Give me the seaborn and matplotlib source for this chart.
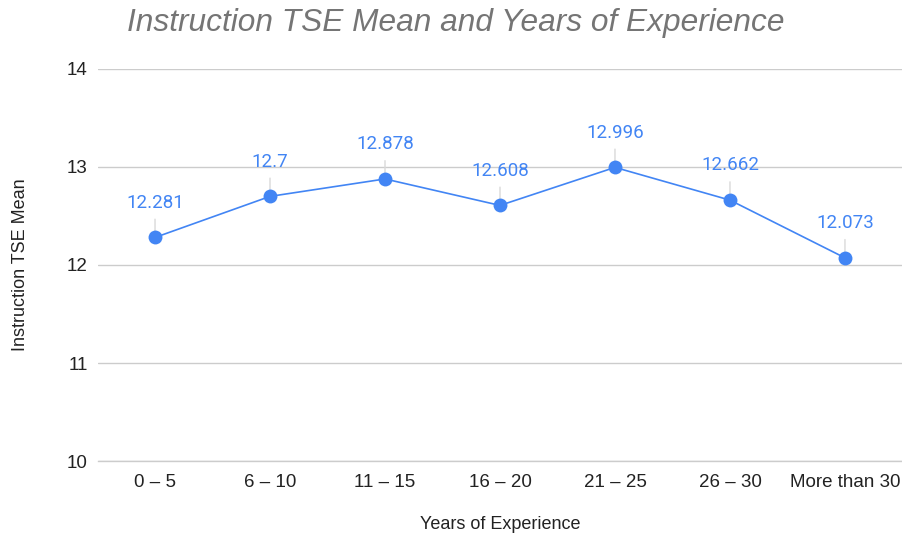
# Imports
import pandas as pd
import matplotlib
matplotlib.use("Agg")
import matplotlib.pyplot as plt
import seaborn as sns

# Data
experience = ["0 – 5", "6 – 10", "11 – 15", "16 – 20", "21 – 25", "26 – 30", "More than 30"]
tse_mean = [12.281, 12.7, 12.878, 12.608, 12.996, 12.662, 12.073]
value_labels = ["12.281", "12.7", "12.878", "12.608", "12.996", "12.662", "12.073"]
y_ticks = [10, 11, 12, 13, 14]

df = pd.DataFrame({"experience": experience, "tse_mean": tse_mean})
df["pos"] = range(len(df))

# Style
sns.set_style("white")
plt.rcParams["font.family"] = ["Liberation Sans", "DejaVu Sans"]
blue = "#4285F4"

fig = plt.figure(figsize=(9.03, 5.39), dpi=100)
ax = fig.add_axes([0.108, 0.1447, 0.8914, 0.7273])

# Line + markers
sns.lineplot(data=df, x="pos", y="tse_mean", ax=ax, color=blue, linewidth=1.2,
             marker="o", markersize=10, markeredgewidth=0, zorder=3)

# Data labels with leader lines (drawn under the line)
for x, y, lab in zip(df["pos"], df["tse_mean"], value_labels):
    ax.annotate(lab, xy=(x, y), xytext=(0, 25), textcoords="offset points",
                ha="center", va="center", color=blue, fontsize=13.5,
                family=["Roboto", "DejaVu Sans"],
                arrowprops=dict(arrowstyle="-", color="#d9d9d9", lw=1,
                                shrinkA=3, shrinkB=0), zorder=2)

# Axes
ax.set_xlim(-0.5, len(df) - 0.5)
ax.set_ylim(10, 14)
ax.set_yticks(y_ticks)
ax.set_xticks(df["pos"])
ax.set_xticklabels(experience)
ax.tick_params(axis="both", length=0, labelsize=13.5, labelcolor="#222222")
ax.tick_params(axis="y", pad=7)
ax.tick_params(axis="x", pad=9)
ax.yaxis.grid(True, color="#cccccc", linewidth=1)
ax.set_axisbelow(True)
for side in ["top", "right", "left"]:
    ax.spines[side].set_visible(False)
ax.spines["bottom"].set_color("#cccccc")
ax.spines["bottom"].set_linewidth(1)

ax.set_xlabel("Years of Experience", fontsize=13, color="#222222")
ax.set_ylabel("Instruction TSE Mean", fontsize=13, color="#222222")
ax.xaxis.set_label_coords(0.5, -0.14)
ax.yaxis.set_label_coords(-0.085, 0.5)

# Title
fig.text(0.1405, 0.958, "Instruction TSE Mean and Years of Experience",
         fontsize=22.8, style="italic", color="#757575", ha="left", va="center")

fig.savefig("out.png", dpi=100)
